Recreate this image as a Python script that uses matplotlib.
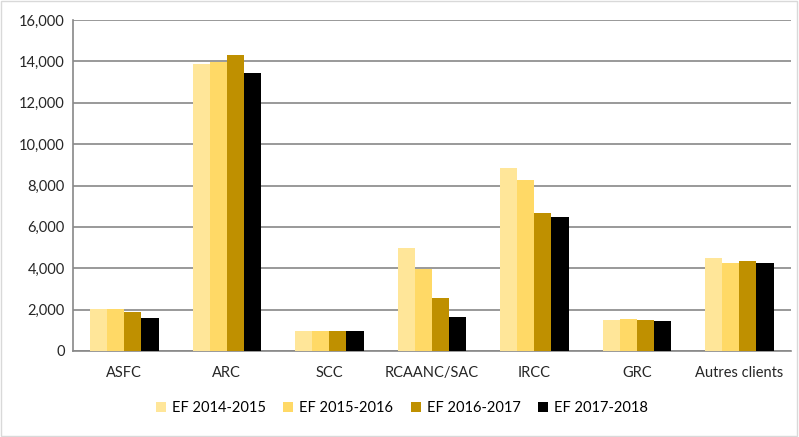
import numpy as np
import matplotlib
matplotlib.use('Agg')
from matplotlib import pyplot as plt
from matplotlib.ticker import FuncFormatter

categories = ['ASFC', 'ARC', 'SCC', 'RCAANC/SAC', 'IRCC', 'GRC', 'Autres clients']
series_names = ['EF 2014-2015', 'EF 2015-2016', 'EF 2016-2017', 'EF 2017-2018']
ef_2014 = [2050, 13870, 940, 4960, 8850, 1510, 4470]
ef_2015 = [2050, 13960, 985, 3970, 8270, 1560, 4230]
ef_2016 = [1860, 14300, 940, 2580, 6660, 1510, 4330]
ef_2017 = [1610, 13430, 985, 1650, 6470, 1460, 4230]
colors = ['#FFE699', '#FFD966', '#BF9000', '#000000']

plt.rcParams['font.family'] = ['Lato', 'DejaVu Sans']

fig = plt.figure(figsize=(7.99, 4.37), dpi=100)
ax = fig.add_axes([0.0914, 0.197, 0.898, 0.757])

x = np.arange(len(categories))
w = 0.167
for i, vals in enumerate([ef_2014, ef_2015, ef_2016, ef_2017]):
    ax.bar(x + (i - 1.5) * w, vals, w, color=colors[i], label=series_names[i], zorder=3)

ax.set_xlim(-0.5, len(categories) - 0.5)
ax.set_ylim(0, 16000)
ax.set_yticks(np.arange(0, 16001, 2000))
ax.yaxis.set_major_formatter(FuncFormatter(lambda v, p: f'{int(v):,}'))
ax.set_xticks(x)
ax.set_xticklabels(categories)
ax.grid(axis='y', color='#888888', linewidth=1.2, zorder=0)
for s in ['top', 'right']:
    ax.spines[s].set_visible(False)
for s in ['left', 'bottom']:
    ax.spines[s].set_color('#888888')
    ax.spines[s].set_linewidth(1.2)
ax.tick_params(axis='both', labelsize=10.5, colors='#888888', labelcolor='#262626')
ax.tick_params(axis='x', length=0, pad=11)
ax.tick_params(axis='y', length=0, pad=6)

fig.legend(*ax.get_legend_handles_labels(), loc='center', bbox_to_anchor=(0.503, 0.066),
           ncol=4, frameon=False, fontsize=10.5, handlelength=0.7, handleheight=0.7,
           columnspacing=1.2, handletextpad=0.4)

fig.patches.append(plt.Rectangle((0.001, 0.002), 0.997, 0.996, transform=fig.transFigure,
                                 fill=False, edgecolor='#D9D9D9', linewidth=1))

fig.savefig('out.png', dpi=100)
